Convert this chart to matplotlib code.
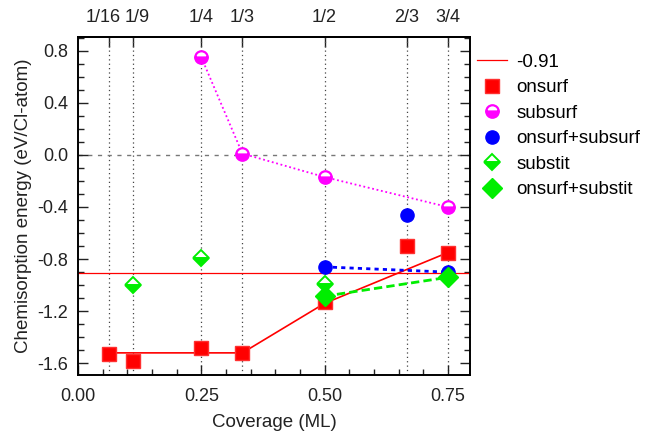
import matplotlib
matplotlib.use("Agg")
import matplotlib.pyplot as plt
import matplotlib.transforms as mtransforms
from matplotlib.ticker import MultipleLocator

plt.rcParams['font.family'] = ['Liberation Sans', 'DejaVu Sans']

# data
frac_pos = [1/16, 1/9, 1/4, 1/3, 1/2, 2/3, 3/4]
frac_lab = ['1/16', '1/9', '1/4', '1/3', '1/2', '2/3', '3/4']

ref_level = -0.91

onsurf_x = [1/16, 1/9, 1/4, 1/3, 1/2, 2/3, 3/4]
onsurf_y = [-1.53, -1.58, -1.48, -1.52, -1.13, -0.70, -0.75]
onsurf_line_x = [1/16, 1/3, 1/2, 3/4]
onsurf_line_y = [-1.52, -1.52, -1.14, -0.75]

subsurf_x = [1/4, 1/3, 1/2, 3/4]
subsurf_y = [0.75, 0.01, -0.17, -0.40]

onsub_x = [1/2, 2/3, 3/4]
onsub_y = [-0.86, -0.46, -0.90]
onsub_line_x = [1/2, 3/4]
onsub_line_y = [-0.86, -0.90]

substit_x = [1/9, 1/4, 1/2]
substit_y = [-1.00, -0.795, -0.99]

onsubst_x = [1/2, 3/4]
onsubst_y = [-1.085, -0.94]

fig = plt.figure(figsize=(6.48, 4.38), dpi=100)
ax = fig.add_axes([0.1204, 0.1438, 0.6049, 0.7717])

# guide lines
for xv in frac_pos:
    ax.axvline(xv, color='#444444', ls=(0, (1, 2.5)), lw=0.9, zorder=1)
ax.axhline(0, color='#777777', ls=(0, (3, 4)), lw=1.0, zorder=1)

ax.axhline(ref_level, color='#ff0000', lw=0.9, label='-0.91', zorder=2)

ax.plot(onsurf_line_x, onsurf_line_y, color='#ff0000', lw=1.2, zorder=3)
ax.plot(onsurf_x, onsurf_y, 's', color='#ff0000', ms=9.5, mec='#ff3030',
        label='onsurf', zorder=4)

ax.plot(subsurf_x, subsurf_y, color='#ff00ff', ls=(0, (1, 1.5)), lw=1.3, zorder=3)
ax.plot(subsurf_x, subsurf_y, 'o', color='#ff00ff', ms=9, mfc='#ff00ff',
        mfcalt='white', fillstyle='bottom', mew=1.6, label='subsurf', zorder=4)

ax.plot(onsub_line_x, onsub_line_y, color='#0000ff', ls=(0, (1.5, 1.5)), lw=2.0, zorder=3)
ax.plot(onsub_x, onsub_y, 'o', color='#0000ff', ms=9.5,
        label='onsurf+subsurf', zorder=4)

ax.plot(substit_x, substit_y, 'D', color='#00ee00', ms=8, mfc='#00ee00',
        mfcalt='white', fillstyle='bottom', mew=1.4, label='substit', zorder=4)

ax.plot(onsubst_x, onsubst_y, color='#00ee00', ls=(0, (3, 1.5)), lw=2.0, zorder=3)
ax.plot(onsubst_x, onsubst_y, 'D', color='#00ee00', ms=10,
        label='onsurf+substit', zorder=5)

ax.set_xlim(0, 0.795)
ax.set_ylim(-1.69, 0.905)
ax.xaxis.set_major_locator(MultipleLocator(0.25))
ax.xaxis.set_minor_locator(MultipleLocator(0.05))
ax.yaxis.set_major_locator(MultipleLocator(0.4))
ax.yaxis.set_minor_locator(MultipleLocator(0.1))
ax.xaxis.set_major_formatter(plt.FormatStrFormatter('%.2f'))
ax.yaxis.set_major_formatter(plt.FormatStrFormatter('%.1f'))
ax.tick_params(which='both', direction='in', top=False, right=True, labelsize=13,
               colors='#222222')
ax.tick_params(axis='x', which='major', pad=9)
ax.tick_params(axis='y', which='major', pad=7)
ax.tick_params(which='major', length=7, width=1)
ax.tick_params(which='minor', length=4, width=1)
for sp in ax.spines.values():
    sp.set_linewidth(1.4)

top = ax.secondary_xaxis('top')
top.set_xticks(frac_pos)
top.set_xticklabels(frac_lab)
top.tick_params(direction='in', length=7, width=1, labelsize=13, pad=8, colors='#222222')
top.spines['top'].set_linewidth(1.4)
# nudge the two crowded labels apart
labs = top.get_xticklabels()
labs[0].set_transform(labs[0].get_transform() +
                      mtransforms.ScaledTranslation(-0.06, 0, fig.dpi_scale_trans))
labs[1].set_transform(labs[1].get_transform() +
                      mtransforms.ScaledTranslation(0.04, 0, fig.dpi_scale_trans))

ax.set_xlabel('Coverage (ML)', fontsize=13.5, color='#222222', labelpad=7)
ax.set_ylabel('Chemisorption energy (eV/Cl-atom)', fontsize=13.5, color='#222222')

ax.legend(loc='upper left', bbox_to_anchor=(0.985, 0.99), frameon=False,
          fontsize=13.5, handlelength=1.6, labelspacing=0.45, borderaxespad=0.3,
          handletextpad=0.5)

fig.savefig('out.png', dpi=100)
